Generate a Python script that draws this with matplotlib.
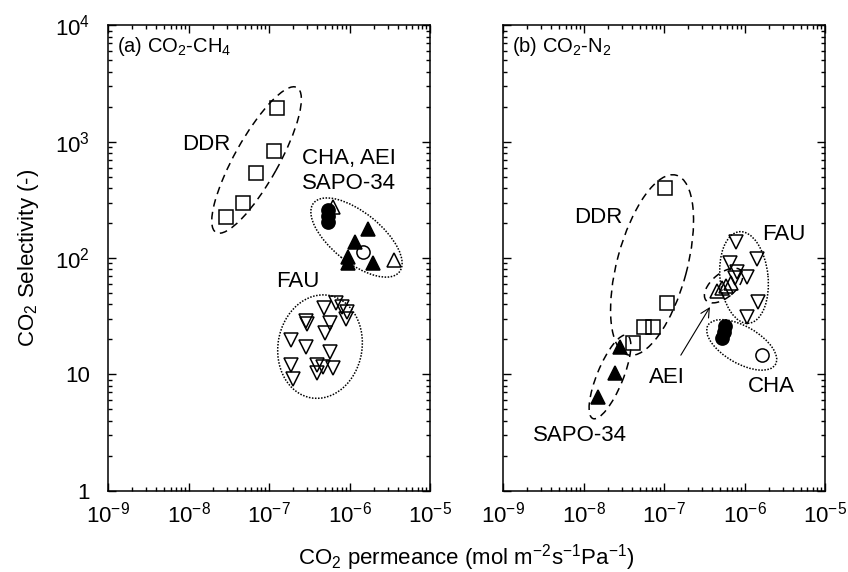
import matplotlib
matplotlib.use('Agg')
import matplotlib.pyplot as plt
import matplotlib.transforms as mtransforms
from matplotlib.patches import Ellipse
from matplotlib.ticker import LogLocator, NullFormatter, FixedLocator, FixedFormatter

plt.rcParams['font.family'] = ['Liberation Sans', 'DejaVu Sans']
plt.rcParams['mathtext.default'] = 'regular'

# ---- (a) CO2-CH4 ----
ddr_a_perm = [2.9e-8, 4.8e-8, 6.8e-8, 1.15e-7, 1.27e-7]
ddr_a_sel = [224, 295, 541, 832, 1960]

cha_a_filled_perm = [5.4e-7, 5.4e-7, 5.4e-7]
cha_a_filled_sel = [259, 230, 204]
cha_a_open_perm = [1.46e-6]
cha_a_open_sel = [113]

aei_a_perm = [6.15e-7, 3.57e-6]
aei_a_sel = [276, 96]

sapo_a_perm = [1.71e-6, 1.17e-6, 9.7e-7, 9.5e-7, 1.98e-6]
sapo_a_sel = [177, 136, 103, 90, 90]

fau_a_perm = [4.8e-7, 6.7e-7, 8.0e-7, 9.4e-7, 9.1e-7, 2.9e-7, 2.95e-7,
              5.7e-7, 5.0e-7, 1.9e-7, 2.9e-7, 5.7e-7, 6.3e-7, 3.9e-7,
              4.7e-7, 3.9e-7, 1.9e-7, 2.0e-7]
fau_a_sel = [37.0, 41.3, 38.1, 34.5, 29.7, 28.5, 27.0,
             27.5, 22.5, 19.7, 17.3, 15.6, 11.3, 12.0,
             11.5, 10.2, 12.0, 9.2]

# ---- (b) CO2-N2 ----
ddr_b_perm = [1.03e-7, 1.08e-7, 5.7e-8, 7.2e-8, 4.1e-8]
ddr_b_sel = [397, 40.8, 25.7, 25.7, 18.7]

sapo_b_perm = [2.84e-8, 2.46e-8, 1.53e-8]
sapo_b_sel = [17.3, 10.2, 6.4]

aei_b_perm = [4.55e-7, 5.25e-7, 5.97e-7, 6.7e-7]
aei_b_sel = [52, 54.7, 58, 61.5]

fau_b_perm = [7.84e-7, 1.42e-6, 6.6e-7, 8.0e-7, 1.08e-6, 7.6e-7, 1.48e-6, 1.08e-6]
fau_b_sel = [138, 97.5, 90, 76.3, 68.2, 66.9, 42.1, 31.3]

cha_b_filled_perm = [5.73e-7, 5.49e-7, 5.25e-7]
cha_b_filled_sel = [26.0, 23.1, 20.5]
cha_b_open_perm = [1.64e-6]
cha_b_open_sel = [14.7]

x_ticks = [1e-9, 1e-8, 1e-7, 1e-6, 1e-5]
x_tick_labels = ['$10^{-9}$', '$10^{-8}$', '$10^{-7}$', '$10^{-6}$', '$10^{-5}$']
y_ticks = [1, 10, 100, 1000, 10000]
y_tick_labels = ['1', '10', '$10^{2}$', '$10^{3}$', '$10^{4}$']

fig = plt.figure(figsize=(8.48, 5.72), dpi=100)
ax1 = fig.add_axes([0.1274, 0.1423, 0.3797, 0.8133])
ax2 = fig.add_axes([0.5932, 0.1423, 0.3797, 0.8133])

mk = dict(linestyle='none', markeredgecolor='black', markeredgewidth=1.1)
open_mk = dict(mk, markerfacecolor='none')
fill_mk = dict(mk, markerfacecolor='black')


def ring(ax, cx, cy, w, h, ang, ls):
    # ellipse sized in pixels, centred on a data point
    tr = mtransforms.Affine2D().scale(fig.dpi / 100.0) + \
        mtransforms.ScaledTranslation(cx, cy, ax.transData)
    e = Ellipse((0, 0), w, h, angle=ang, fill=False, edgecolor='black',
                linewidth=1.1, linestyle=ls, transform=tr)
    ax.add_patch(e)


dash = (0, (5, 3.5))
dot = (0, (1, 1))

for ax in (ax1, ax2):
    ax.set_xscale('log')
    ax.set_yscale('log')
    ax.set_xlim(1e-9, 1e-5)
    ax.set_ylim(1, 1e4)
    ax.xaxis.set_major_locator(FixedLocator(x_ticks))
    ax.xaxis.set_major_formatter(FixedFormatter(x_tick_labels))
    ax.xaxis.set_minor_locator(LogLocator(base=10, subs=range(2, 10)))
    ax.xaxis.set_minor_formatter(NullFormatter())
    ax.yaxis.set_major_locator(FixedLocator(y_ticks))
    ax.yaxis.set_major_formatter(FixedFormatter(y_tick_labels))
    ax.yaxis.set_minor_locator(LogLocator(base=10, subs=range(2, 10)))
    ax.yaxis.set_minor_formatter(NullFormatter())
    ax.tick_params(which='both', direction='in', top=True, right=True,
                   width=1.0, labelsize=16)
    ax.tick_params(which='major', length=6)
    ax.tick_params(which='minor', length=3)
    ax.tick_params(axis='x', pad=8)
    ax.tick_params(axis='y', pad=13)
    for s in ax.spines.values():
        s.set_linewidth(1.1)

ax2.tick_params(labelleft=False)

# panel (a)
ax1.plot(ddr_a_perm, ddr_a_sel, marker='s', markersize=9.5, **open_mk)
ax1.plot(cha_a_filled_perm, cha_a_filled_sel, marker='o', markersize=9.5, **fill_mk)
ax1.plot(aei_a_perm, aei_a_sel, marker='^', markersize=10, **open_mk)
ax1.plot(sapo_a_perm, sapo_a_sel, marker='^', markersize=10, **fill_mk)
ax1.plot(cha_a_open_perm, cha_a_open_sel, marker='o', markersize=9.5, **open_mk)
ax1.plot(fau_a_perm, fau_a_sel, marker='v', markersize=10, **open_mk)

ring(ax1, 7.0e-8, 696, 166, 44, 60.8, dash)
ring(ax1, 1.22e-6, 150, 110, 50, -38.8, dot)
ring(ax1, 4.3e-7, 17.3, 104, 84, 80, dot)

ax1.text(1.65e-8, 937, 'DDR', fontsize=16, ha='center', va='center')
ax1.text(2.57e-7, 720, 'CHA, AEI', fontsize=16, ha='left', va='center')
ax1.text(2.57e-7, 439, 'SAPO-34', fontsize=16, ha='left', va='center')
ax1.text(2.29e-7, 62.2, 'FAU', fontsize=16, ha='center', va='center')
ax1.text(0.028, 0.954, '(a) CO$_2$-CH$_4$', transform=ax1.transAxes,
         fontsize=14.5, ha='left', va='center')

# panel (b)
ax2.plot(ddr_b_perm, ddr_b_sel, marker='s', markersize=9.5, **open_mk)
ax2.plot(sapo_b_perm, sapo_b_sel, marker='^', markersize=10, **fill_mk)
ax2.plot(aei_b_perm, aei_b_sel, marker='^', markersize=10, **open_mk)
ax2.plot(fau_b_perm, fau_b_sel, marker='v', markersize=10, **open_mk)
ax2.plot(cha_b_filled_perm, cha_b_filled_sel, marker='o', markersize=9.5, **fill_mk)
ax2.plot(cha_b_open_perm, cha_b_open_sel, marker='o', markersize=9.5, **open_mk)

ring(ax2, 7.1e-8, 87, 186, 70, 75, dash)
ring(ax2, 2.13e-8, 9.5, 90, 26, 67.7, dash)
ring(ax2, 5.5e-7, 58, 46, 24, 40, dash)
ring(ax2, 9.86e-7, 68, 92, 48, 96, dot)
ring(ax2, 9.23e-7, 17.9, 78, 37, -30, dot)

ax2.text(1.51e-8, 221, 'DDR', fontsize=16, ha='center', va='center')
ax2.text(9.05e-9, 2.95, 'SAPO-34', fontsize=16, ha='center', va='center')
ax2.text(3.1e-6, 158, 'FAU', fontsize=16, ha='center', va='center')
ax2.text(2.13e-6, 7.78, 'CHA', fontsize=16, ha='center', va='center')
ax2.annotate('AEI', xy=(3.72e-7, 37.9), xytext=(1.09e-7, 9.3),
             fontsize=16, ha='center', va='center',
             arrowprops=dict(arrowstyle='->', lw=0.8, color='black',
                             shrinkA=8, shrinkB=0))
ax2.text(0.028, 0.954, '(b) CO$_2$-N$_2$', transform=ax2.transAxes,
         fontsize=14.5, ha='left', va='center')

ax1.set_ylabel('CO$_2$ Selectivity (-)', fontsize=16, labelpad=10)
fig.text(0.55, 0.026, 'CO$_2$ permeance (mol m$^{-2}$s$^{-1}$Pa$^{-1}$)',
         fontsize=16, ha='center', va='center')

fig.savefig('out.png', dpi=100)
